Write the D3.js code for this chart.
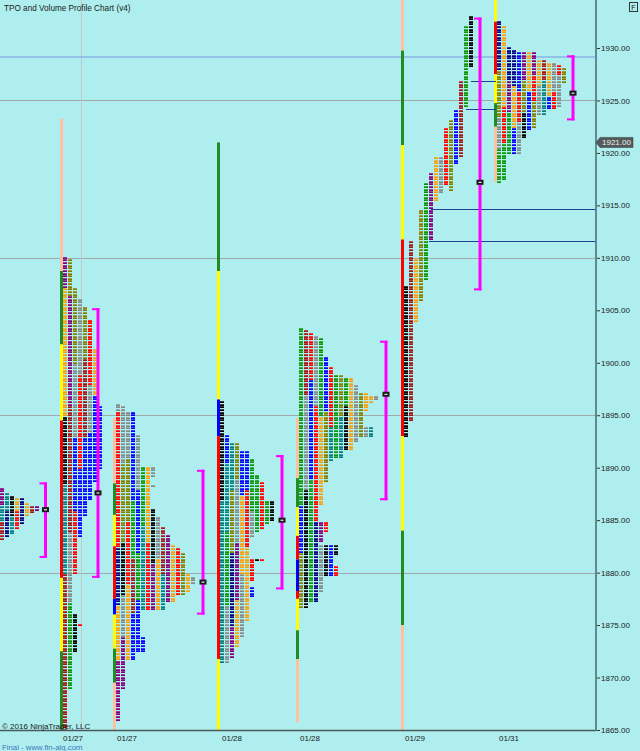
<!DOCTYPE html>
<html><head><meta charset="utf-8">
<script src="https://cdn.jsdelivr.net/npm/d3@7"></script>
<style>html,body{margin:0;padding:0;background:#afeeee;}svg{display:block;font-family:"Liberation Sans",Arial,sans-serif;}</style>
</head><body>
<svg id="c" width="640" height="751"></svg>
<script>
// ---------- DATA ----------
const priceTicks = [1865,1870,1875,1880,1885,1890,1895,1900,1905,1910,1915,1920,1925,1930];
const gridPrices = [1925,1910,1895,1880];
const dateLabels = ["01/27","01/27","01/28","01/28","01/29","01/31"];
const dateSlots  = [14.6,25.4,46.4,62,83,101.8];
const vGridSlots = [16.2];
const lastPrice = 1921.00;
const refLine = 1929.14;
// [price, fromSlot, toSlot]
const levelLines = [[1914.65,86.2,119.2],[1911.6,85.8,119.2],[1926.85,94.2,99.2],[1924.2,93.2,99.2]];

const sessionNames  = ["A","B","C","D","E","F","G"];
const sessionStarts = [-0.6,12,22.6,43.4,59.2,80.2,98.8];
const sessionModes  = ["stack","stack","stack","stack","stack","split","stack"];
const vaSlots = [9.1,19.6,40.6,56.4,77.2,96,114.6];
const vaHigh  = [1888.6,1905.2,1889.8,1891.2,1902.1,1932.9,1929.3];
const vaLow   = [1881.4,1879.5,1876.0,1878.4,1886.9,1906.9,1923.1];
const pocPrices = [1886.0,1887.6,1879.1,1885.0,1897.0,1917.2,1925.7];

// TPO periods in time order: [low, high, colour]
const periodsA = [
 [1886.5,1888,"P"],[1885,1886.25,"T"],[1883.25,1884.75,"M"],
 [1886,1887.5,"T"],[1883.5,1885.75,"V"],
 [1885.5,1887.25,"K"],[1883.75,1885.25,"T"],
 [1886,1887,"Y"],[1884.25,1885.75,"R"],
 [1884.75,1887,"V"],[1885.5,1886.5,"Y"],[1885.75,1886.25,"M"],[1886,1886.25,"P"]
];
const periodsB = [
 [1907.25,1910,"P"],[1895,1907,"Y"],[1888.5,1894.75,"K"],[1880,1888.25,"T"],[1865,1879.75,"M"],
 [1906.5,1909.75,"O"],[1896,1906.25,"P"],[1884,1895.75,"M"],[1877.25,1883.75,"G"],[1869,1877,"N"],
 [1900,1907,"O"],[1893,1899.75,"G"],[1886,1892.75,"B"],[1880,1885.75,"R"],[1872.5,1876,"K"],
 [1899,1906,"G"],[1890,1898.75,"R"],[1883.5,1889.75,"B"],[1875,1875,"R"],
 [1900.5,1905.25,"O"],[1893,1900.25,"M"],[1885.5,1892.75,"B"],
 [1898,1904,"R"],[1893.5,1897.75,"G"],[1887,1893.25,"B"],
 [1897,1901.25,"Y"],[1888.75,1896.75,"B"],
 [1890,1895.75,"B"]
];
const periodsC = [
 [1895.5,1896,"G"],[1882.5,1895.25,"R"],[1877,1882.25,"V"],[1871.75,1876.75,"Y"],[1866,1871.5,"P"],
 [1890.5,1895.75,"G"],[1883,1890.25,"O"],[1878,1882.75,"K"],[1874,1877.75,"G"],[1869,1873.75,"P"],
 [1891,1895.25,"G"],[1885,1890.75,"O"],[1879,1884.75,"R"],[1871.75,1878.75,"Y"],
 [1887,1895.25,"B"],[1881.5,1886.75,"N"],[1876.25,1881.25,"M"],[1871.75,1876,"B"],
 [1888,1893,"G"],[1882,1887.75,"B"],[1877.5,1881.75,"N"],[1872.5,1877.25,"B"],
 [1884.5,1890,"N"],[1876.5,1884.25,"T"],[1872.5,1873.75,"B"],
 [1883,1890,"Y"],[1876.5,1882.75,"R"],
 [1889.25,1890,"G"],[1888.25,1888.25,"G"],[1881,1886,"K"],[1876.5,1880.75,"P"],
 [1881.5,1885.25,"G"],[1876.5,1881.25,"Y"],
 [1880,1884.25,"M"],[1876.5,1879.75,"T"],
 [1877.25,1883.5,"P"],[1877.25,1882.5,"Y"],[1878,1882.25,"R"],[1878,1881.75,"O"],
 [1878.25,1879.75,"Y"],[1879,1879.5,"G"]
];
const periodsD = [
 [1887,1896.25,"K"],[1871.5,1886.75,"T"],
 [1890.5,1893,"B"],[1884,1890.25,"T"],[1877,1883.75,"N"],[1871.5,1876.75,"G"],
 [1888,1892.25,"T"],[1882,1887.75,"O"],[1875,1881.75,"V"],[1872,1874.75,"P"],
 [1889,1892.25,"O"],[1883,1888.75,"G"],[1877.5,1882.75,"P"],[1873,1877.25,"Y"],
 [1887.5,1891.5,"B"],[1880,1887.25,"Y"],[1874,1879.75,"G"],
 [1888,1891.5,"B"],[1882.5,1887.75,"R"],[1875.5,1882.25,"Y"],
 [1886,1890.75,"N"],[1883.5,1885.75,"G"],[1879.25,1881.25,"R"],[1877.75,1878.5,"B"],
 [1884,1889.25,"N"],[1881.25,1881.25,"K"],
 [1884.25,1888.5,"R"],[1881.25,1881.25,"R"],
 [1884.75,1886.75,"N"],[1885,1886.75,"K"]
];
const periodsE = [
 [1886.5,1903.25,"N"],[1882,1886.25,"B"],[1876.75,1881.75,"O"],
 [1897,1903,"M"],[1888,1896.75,"G"],[1876.75,1887.75,"K"],
 [1898.5,1902.75,"R"],[1889,1898.25,"B"],[1877.25,1888.75,"N"],
 [1896,1902.5,"G"],[1885,1895.75,"R"],[1877.25,1884.75,"V"],
 [1895,1902.25,"N"],[1886.5,1894.75,"Y"],[1883,1884.75,"P"],[1878.25,1882.5,"G"],
 [1895.5,1900.5,"B"],[1888.75,1895.25,"O"],[1884,1884.75,"R"],[1879.75,1882.5,"K"],
 [1894,1899.5,"R"],[1890.75,1893.75,"T"],[1879.75,1882.5,"B"],
 [1891,1898.75,"N"],[1879.75,1880.5,"R"],[1881.75,1882.5,"K"],
 [1895,1898.75,"O"],[1891,1894.75,"T"],
 [1896,1898.5,"N"],[1891.75,1895.75,"K"],
 [1891.75,1898.5,"Y"],[1892.5,1897.75,"G"],[1893,1897,"O"],
 [1895.5,1897,"Y"],[1893,1893.75,"G"],
 [1896.25,1896.75,"Y"],[1893,1893.75,"T"],
 [1896.5,1896.75,"G"]
];
const periodsF = [
 [1893,1907.25,"K"],[1894.5,1911.5,"M"],[1904,1909.75,"Y"],[1906,1914.5,"O"],
 [1908,1917,"N"],[1911.75,1918,"P"],[1915.5,1919.5,"Y"],[1916.25,1919.5,"G"],
 [1917,1922.25,"R"],[1916.5,1923,"O"],[1919,1924,"B"],[1919.75,1926.75,"M"],
 [1924.5,1932,"N"],[1928.25,1933,"K"]
];
const periodsG = [
 [1928,1932.5,"V"],[1923.5,1927.75,"O"],[1920.5,1923.25,"G"],[1917.25,1920.25,"N"],
 [1924.5,1932,"Y"],[1921,1924.25,"R"],[1917.5,1920.75,"N"],
 [1927,1930,"V"],[1924,1926.75,"P"],[1920,1923.75,"N"],
 [1926.5,1929.75,"V"],[1922.5,1926.25,"Y"],[1920,1922.25,"B"],
 [1926,1929.5,"B"],[1923,1925.75,"R"],[1920,1922.75,"G"],
 [1927,1929.5,"P"],[1924,1926.75,"O"],[1921.5,1923.75,"K"],
 [1926,1929.5,"Y"],[1922.25,1925.75,"B"],
 [1927.5,1929.5,"P"],[1925,1927.25,"R"],[1922.5,1924.75,"O"],
 [1926.5,1928.75,"Y"],[1923.75,1926.25,"G"],
 [1927,1928.75,"M"],[1923.75,1926.75,"T"],
 [1925.5,1928.5,"Y"],[1924.25,1925.25,"B"],
 [1926,1928.5,"G"],[1924.25,1925.75,"R"],
 [1927.5,1928.25,"R"],[1924.5,1927.25,"G"],
 [1926.75,1928,"O"]
];
// session range bars: [low, high, colour]
const barA = [];
const barB = [[1908.75,1923.25,"s"],[1901.75,1908.75,"g"],[1894.5,1901.75,"y"],[1879.5,1894.5,"r"],[1872.5,1879.5,"y"],[1865,1872.5,"g"]];
const barC = [[1888.5,1894.75,"s"],[1885.5,1888.5,"g"],[1882.5,1885.5,"y"],[1877.5,1882.5,"r"],[1876,1877.5,"b"],[1872.75,1876,"y"],[1869.5,1872.75,"g"],[1865,1869.5,"s"]];
const barD = [[1908.75,1921,"g"],[1896.5,1908.75,"y"],[1893,1896.5,"b"],[1871.75,1893,"r"],[1865,1871.75,"y"]];
const barE = [[1889,1894.75,"s"],[1886.25,1889,"g"],[1883.5,1886.25,"y"],[1881.25,1883.5,"r"],[1878.25,1881.25,"b"],[1877.5,1878.25,"r"],[1874.5,1877.5,"y"],[1871.75,1874.5,"g"],[1865.75,1871.75,"s"]];
const barF = [[1929.75,1934.6,"s"],[1920.75,1929.75,"g"],[1911.75,1920.75,"y"],[1893,1911.75,"r"],[1884,1893,"y"],[1875,1884,"g"],[1865,1875,"s"]];
const barG = [[1932.5,1934.6,"y"],[1927.5,1932.5,"r"],[1924.75,1927.5,"y"],[1922.5,1924.75,"g"],[1917.25,1922.5,"s"]];

const tpoColors = {P:"#800080",O:"#808000",Y:"#f0a010",G:"#7f8c8c",R:"#ff0000",B:"#0000ff",N:"#0a960a",K:"#000000",T:"#008080",M:"#a01818",V:"#000080"};
const barColors = {s:"#ffc0a0",g:"#228b22",y:"#ffff00",r:"#ff0000",b:"#0000ff"};

const allPeriods = [periodsA,periodsB,periodsC,periodsD,periodsE,periodsF,periodsG];
const allBars = [barA,barB,barC,barD,barE,barF,barG];

// ---------- CHART ----------
const W = 640, H = 751, plotRight = 596, plotBottom = 730;
const svg = d3.select("#c");
const y = d3.scaleLinear().domain([1865,1930]).range([730,48]);
const x = d3.scaleLinear().domain([0,119.2]).range([0,plotRight]);
const step = x(1) - x(0);

svg.append("rect").attr("width",W).attr("height",H).attr("fill","#afeeee");

const plot = svg.append("g");
svg.append("clipPath").attr("id","pc").append("rect").attr("x",0).attr("y",0).attr("width",plotRight).attr("height",plotBottom);
plot.attr("clip-path","url(#pc)");

// grid
plot.selectAll(".hg").data(gridPrices).join("line")
  .attr("x1",0).attr("x2",plotRight).attr("y1",d=>Math.round(y(d))+0.5).attr("y2",d=>Math.round(y(d))+0.5)
  .attr("stroke","#a2a9aa").attr("stroke-width",1);
plot.selectAll(".vg").data(vGridSlots).join("line")
  .attr("x1",d=>Math.round(x(d))+0.5).attr("x2",d=>Math.round(x(d))+0.5).attr("y1",0).attr("y2",plotBottom)
  .attr("stroke","#c2c8c8").attr("stroke-width",1);
plot.append("line").attr("x1",0).attr("x2",plotRight).attr("y1",y(refLine)).attr("y2",y(refLine))
  .attr("stroke","#88b4e4").attr("stroke-width",1.6);

// profiles
sessionNames.forEach((nm, si) => {
  const g = plot.append("g");
  const bx = x(sessionStarts[si]);
  g.selectAll("rect.bar").data(allBars[si]).join("rect")
    .attr("x",bx).attr("width",3)
    .attr("y",d=>y(d[1])).attr("height",d=>y(d[0])-y(d[1]))
    .attr("fill",d=>barColors[d[2]]);
  const cells = [], counts = new Map();
  allPeriods[si].forEach((pd,i)=>{
    const lo = Math.round(pd[0]*4), hi = Math.round(pd[1]*4);
    for (let k=lo;k<=hi;k++){
      let col;
      if (sessionModes[si]==="split") col = i;
      else { col = counts.get(k)||0; counts.set(k,col+1); }
      cells.push({p:k/4,col,c:pd[2]});
    }
  });
  const cx0 = bx + 3;
  g.selectAll("rect.cell").data(cells).join("rect")
    .attr("x",d=>cx0 + d.col*step).attr("width",step-1)
    .attr("y",d=>Math.round(y(d.p)-1)).attr("height",2)
    .attr("fill",d=>tpoColors[d.c]).attr("shape-rendering","crispEdges");
  g.selectAll("rect.hl").data(cells).join("rect")
    .attr("x",d=>cx0 + d.col*step).attr("width",step-1)
    .attr("y",d=>Math.round(y(d.p)-1)).attr("height",1)
    .attr("fill","#ffffff").attr("opacity",0.22).attr("shape-rendering","crispEdges");
});

// level lines
plot.selectAll(".lv").data(levelLines).join("line")
  .attr("x1",d=>x(d[1])).attr("x2",d=>x(d[2])).attr("y1",d=>Math.round(y(d[0]))+0.5).attr("y2",d=>Math.round(y(d[0]))+0.5)
  .attr("stroke","#1f3f90").attr("stroke-width",1);

// value area brackets and POC markers
sessionNames.forEach((nm, si) => {
  const bxx = x(vaSlots[si]);
  const top = y(vaHigh[si]), bot = y(vaLow[si]);
  const g = plot.append("g");
  g.append("rect").attr("x",bxx-1.5).attr("y",top).attr("width",3).attr("height",bot-top).attr("fill","#ff00ff");
  g.append("rect").attr("x",bxx-6).attr("y",top).attr("width",7.5).attr("height",2).attr("fill","#ff00ff");
  g.append("rect").attr("x",bxx-6).attr("y",bot-2).attr("width",7.5).attr("height",2).attr("fill","#ff00ff");
  const py = y(pocPrices[si]);
  g.append("rect").attr("x",bxx-3.5).attr("y",py-2.5).attr("width",7).attr("height",5).attr("fill","#1a1a1a");
  g.append("rect").attr("x",bxx-1.5).attr("y",py-0.5).attr("width",3).attr("height",1.2).attr("fill","#e8e8e8");
});

// axes
const yAxis = d3.axisRight(y).tickValues(priceTicks).tickSize(4).tickFormat(d=>d.toFixed(2));
const ax = svg.append("g").attr("transform",`translate(${plotRight},0)`).call(yAxis);
ax.select(".domain").remove();
ax.selectAll(".tick line").attr("stroke","#333");
ax.selectAll(".tick text").attr("x",5).attr("fill","#1a1a1a").style("font-size","8px").style("font-family","'Liberation Sans',Arial,sans-serif");
svg.append("line").attr("x1",plotRight).attr("x2",plotRight).attr("y1",0).attr("y2",plotBottom+1)
  .attr("stroke","#5f8a8f").attr("stroke-width",2);
svg.append("line").attr("x1",0).attr("x2",plotRight).attr("y1",plotBottom+0.5).attr("y2",plotBottom+0.5)
  .attr("stroke","#4a5a5c").attr("stroke-width",1.5);

svg.selectAll(".dl").data(dateLabels).join("text")
  .attr("x",(d,i)=>x(dateSlots[i])).attr("y",741).attr("text-anchor","middle")
  .attr("font-size",8).attr("fill","#1a1a1a").text(d=>d);

// last price marker
const ly = y(lastPrice);
svg.append("path").attr("d",`M${plotRight},${ly} L${plotRight+4},${ly-5} L${plotRight+37},${ly-5} L${plotRight+37},${ly+5} L${plotRight+4},${ly+5} Z`)
  .attr("fill","#555a5a").attr("stroke","#333").attr("stroke-width",0.5);
svg.append("text").attr("x",plotRight+6).attr("y",ly+3).attr("font-size",8).attr("fill","#f0f0f0").text(lastPrice.toFixed(2));

// texts
svg.append("text").attr("x",4).attr("y",11).attr("font-size",8.2).attr("fill","#1a1a1a").text("TPO and Volume Profile Chart (v4)");
svg.append("text").attr("x",2).attr("y",728.5).attr("font-size",8).attr("fill","#1a1a1a").text("© 2016 NinjaTrader, LLC");
svg.append("text").attr("x",2).attr("y",750).attr("font-size",7.8).attr("fill","#3a78c0").text("Final - www.fin-alg.com");
svg.append("rect").attr("x",629.5).attr("y",2.5).attr("width",8).attr("height",9).attr("fill","none").attr("stroke","#333").attr("stroke-width",1);
svg.append("text").attr("x",633.5).attr("y",10).attr("text-anchor","middle").attr("font-size",7).attr("fill","#111").text("F");
</script>
</body></html>
